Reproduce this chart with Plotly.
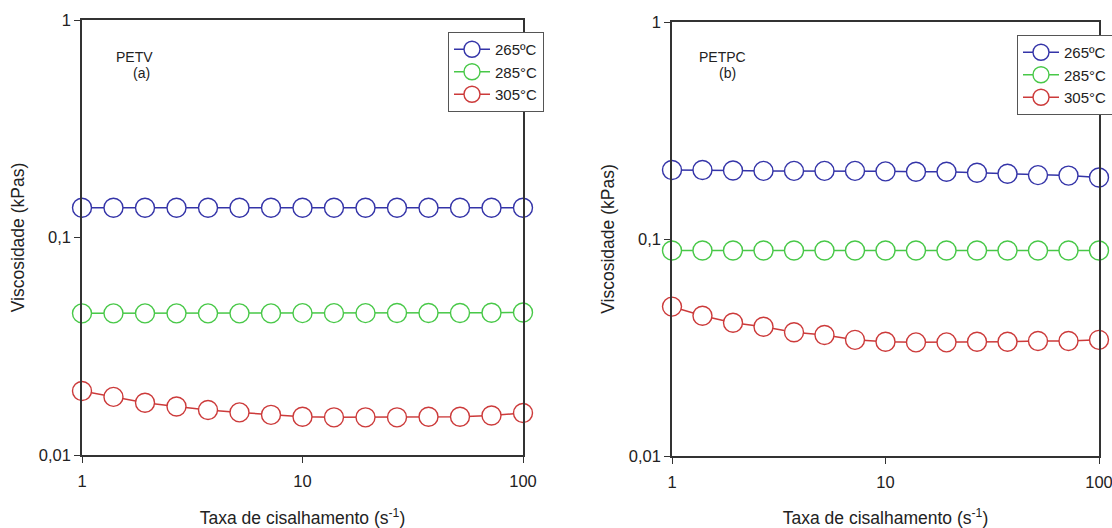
import plotly.graph_objects as go

# Shear rates (s^-1), log-spaced measurement points
shear_rate = [1, 1.389, 1.931, 2.683, 3.728, 5.179, 7.197, 10,
              13.89, 19.31, 26.83, 37.28, 51.79, 71.97, 100]

# PETV viscosity (kPa.s)
petv_265 = [0.137, 0.137, 0.137, 0.137, 0.137, 0.137, 0.137, 0.137,
            0.137, 0.137, 0.137, 0.137, 0.137, 0.137, 0.137]
petv_285 = [0.0448, 0.0448, 0.0448, 0.0448, 0.0448, 0.0448, 0.0448, 0.0449,
            0.0449, 0.0449, 0.0450, 0.0450, 0.0450, 0.0451, 0.0452]
petv_305 = [0.0197, 0.0185, 0.0174, 0.0167, 0.0161, 0.0157, 0.0153, 0.0150,
            0.0149, 0.0149, 0.0149, 0.0150, 0.0150, 0.0152, 0.0156]

# PETPC viscosity (kPa.s)
petpc_265 = [0.208, 0.208, 0.207, 0.206, 0.206, 0.206, 0.206, 0.205,
             0.204, 0.204, 0.202, 0.200, 0.197, 0.196, 0.192]
petpc_285 = [0.0885, 0.0885, 0.0885, 0.0885, 0.0885, 0.0885, 0.0885, 0.0885,
             0.0885, 0.0885, 0.0885, 0.0885, 0.0885, 0.0885, 0.0885]
petpc_305 = [0.0488, 0.0443, 0.0411, 0.0394, 0.0372, 0.0361, 0.0343, 0.0336,
             0.0334, 0.0334, 0.0336, 0.0336, 0.0339, 0.0339, 0.0343]

temps = ["265ºC", "285°C", "305°C"]
colors = ["#3434a8", "#48c848", "#cc3a3a"]

x_ticks = [1, 10, 100]
x_tick_text = ["1", "10", "100"]
y_ticks = [0.01, 0.1, 1]
y_tick_text = ["0,01", "0,1", "1"]

W, H = 1112, 528
FONT = "Arial, Liberation Sans, sans-serif"
AXIS_COLOR = "#333333"
TEXT_COLOR = "#222222"

fig = go.Figure()

panels = [
    ("x", "y", "legend", [petv_265, petv_285, petv_305]),
    ("x2", "y2", "legend2", [petpc_265, petpc_285, petpc_305]),
]
for xa, ya, leg, series in panels:
    for name, vals, col in zip(temps, series, colors):
        fig.add_trace(go.Scatter(
            x=shear_rate, y=vals, name=name, xaxis=xa, yaxis=ya, legend=leg,
            mode="lines+markers", cliponaxis=False,
            line=dict(color=col, width=1.5),
            marker=dict(symbol="circle", size=19, color="white",
                        line=dict(color=col, width=1.4)),
        ))


def px_x(p):
    return p / W


def px_y(p):
    return 1 - p / H


common_x = dict(type="log", range=[0, 2], tickvals=x_ticks, ticktext=x_tick_text,
                showgrid=False, zeroline=False, showline=True, mirror=True,
                linecolor=AXIS_COLOR, linewidth=1.5, ticks="outside", ticklen=6,
                tickcolor=AXIS_COLOR, tickwidth=1.2, ticklabelstandoff=4,
                ticklabeloverflow="allow",
                tickfont=dict(family=FONT, size=16.5, color=TEXT_COLOR),
                title=dict(text="Taxa de cisalhamento (s<sup>-1</sup>)",
                           font=dict(family=FONT, size=17.5, color=TEXT_COLOR),
                           standoff=26),
                automargin=False)
common_y = dict(type="log", range=[-2, 0], tickvals=y_ticks, ticktext=y_tick_text,
                showgrid=False, zeroline=False, showline=True, mirror=True,
                linecolor=AXIS_COLOR, linewidth=1.5, ticks="outside", ticklen=6,
                tickcolor=AXIS_COLOR, tickwidth=1.2, ticklabeloverflow="allow",
                tickfont=dict(family=FONT, size=16.5, color=TEXT_COLOR),
                title=dict(text="Viscosidade (kPas)",
                           font=dict(family=FONT, size=17.5, color=TEXT_COLOR),
                           standoff=10),
                automargin=False)

legend_style = dict(bgcolor="white", bordercolor="#555", borderwidth=1,
                    font=dict(family=FONT, size=15, color=TEXT_COLOR),
                    xanchor="left", yanchor="top", itemsizing="trace",
                    itemwidth=36, tracegroupgap=0)


def label(text, x, y):
    return dict(text=text, x=px_x(x), y=px_y(y), xref="paper", yref="paper",
                xanchor="center", yanchor="middle", showarrow=False,
                font=dict(family=FONT, size=14, color=TEXT_COLOR))


fig.update_layout(
    width=W, height=H,
    margin=dict(l=0, r=0, t=0, b=0, autoexpand=False),
    paper_bgcolor="white", plot_bgcolor="white",
    xaxis=dict(common_x, domain=[px_x(82), px_x(523)], anchor="y"),
    yaxis=dict(common_y, domain=[px_y(455), px_y(20)], anchor="x"),
    xaxis2=dict(common_x, domain=[px_x(672), px_x(1099)], anchor="y2"),
    yaxis2=dict(common_y, domain=[px_y(456), px_y(22)], anchor="x2"),
    legend=dict(legend_style, x=px_x(448), y=px_y(32)),
    legend2=dict(legend_style, x=px_x(1017), y=px_y(35)),
    annotations=[
        label("PETV", 134, 57),
        label("(a)", 141, 73),
        label("PETPC", 722, 57),
        label("(b)", 727, 73),
    ],
)

fig.write_html("out.html")
